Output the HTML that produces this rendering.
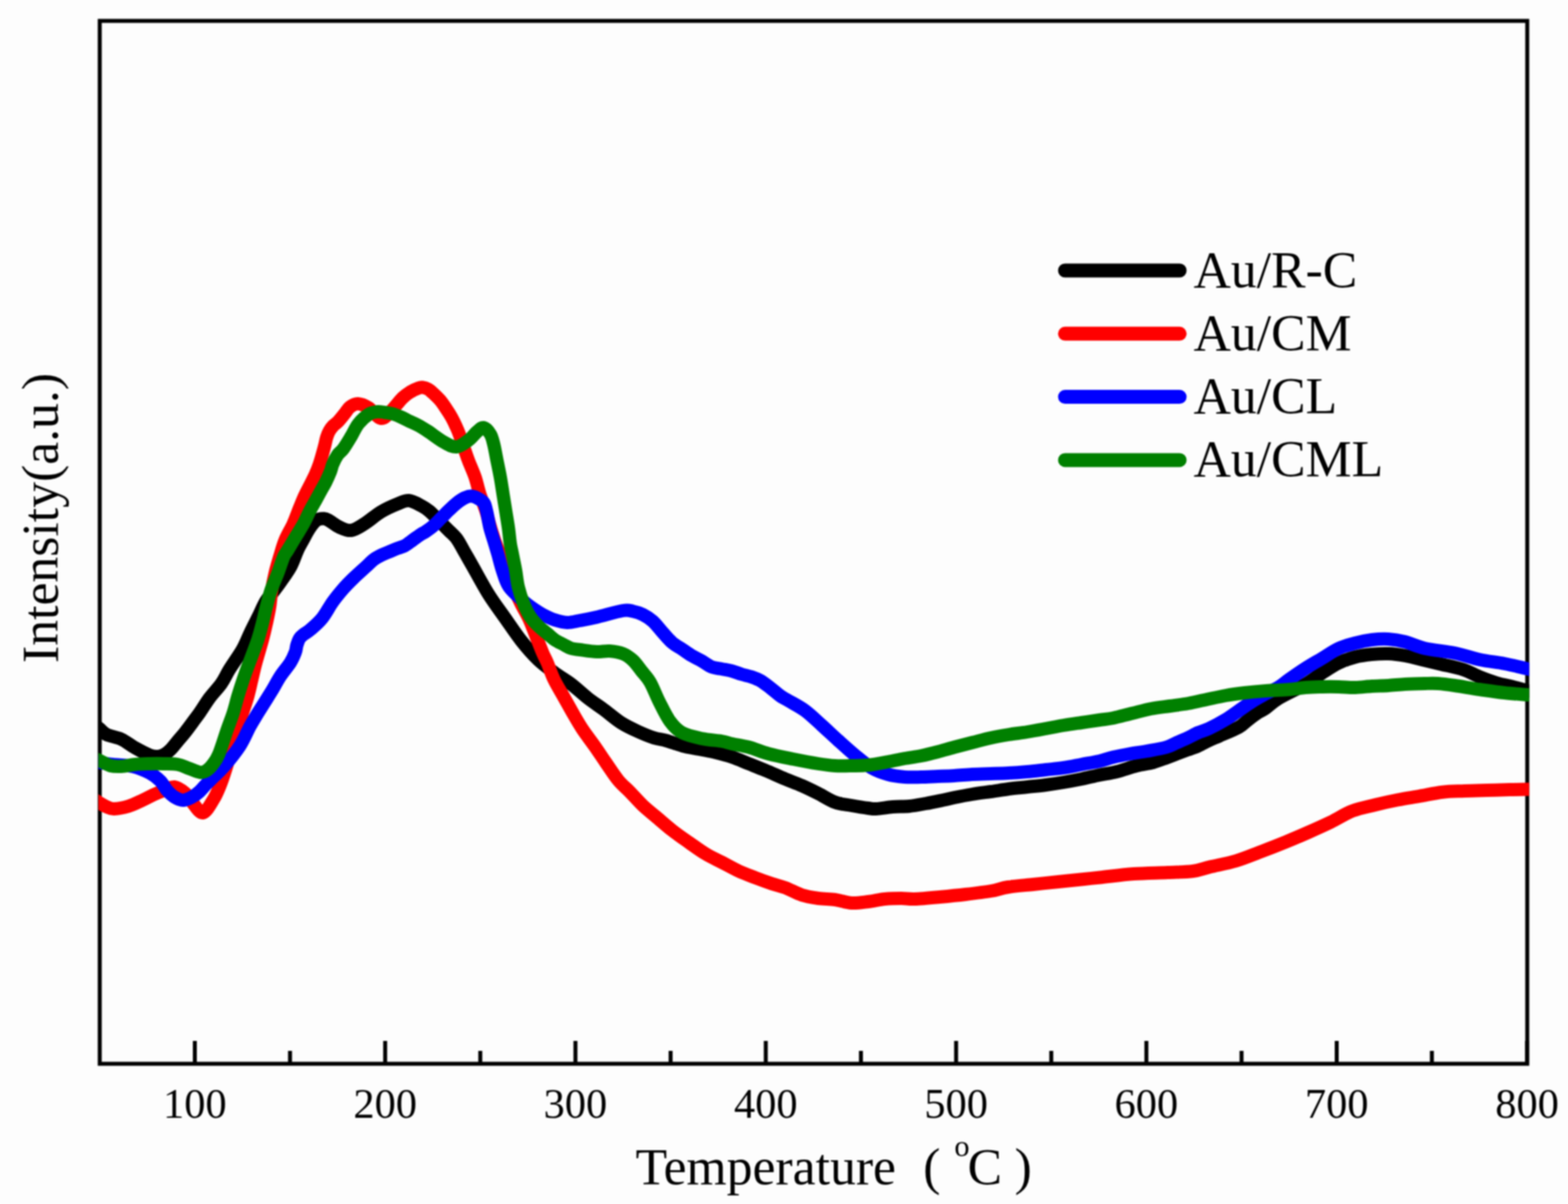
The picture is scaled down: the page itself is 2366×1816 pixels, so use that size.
<!DOCTYPE html>
<html><head><meta charset="utf-8"><style>
html,body{margin:0;padding:0;background:#fdfdfd;}
svg{display:block;filter:blur(0.8px);}
.t{font-family:"Liberation Serif","Times New Roman",serif;font-size:64px;fill:#000;}
.l{font-family:"Liberation Serif","Times New Roman",serif;font-size:78px;fill:#000;}
.a{font-family:"Liberation Serif","Times New Roman",serif;font-size:78px;fill:#000;}
</style></head><body>
<svg width="2366" height="1816" viewBox="0 0 2366 1816">
<defs><clipPath id="pc"><rect x="148.5" y="0" width="2159" height="1816"/></clipPath></defs>
<rect x="0" y="0" width="2366" height="1816" fill="#fdfdfd"/>
<line x1="294.0" y1="1604.5" x2="294.0" y2="1570" stroke="#000" stroke-width="6"/><line x1="437.6" y1="1604.5" x2="437.6" y2="1585" stroke="#000" stroke-width="6"/><line x1="581.2" y1="1604.5" x2="581.2" y2="1570" stroke="#000" stroke-width="6"/><line x1="724.7" y1="1604.5" x2="724.7" y2="1585" stroke="#000" stroke-width="6"/><line x1="868.3" y1="1604.5" x2="868.3" y2="1570" stroke="#000" stroke-width="6"/><line x1="1011.9" y1="1604.5" x2="1011.9" y2="1585" stroke="#000" stroke-width="6"/><line x1="1155.5" y1="1604.5" x2="1155.5" y2="1570" stroke="#000" stroke-width="6"/><line x1="1299.1" y1="1604.5" x2="1299.1" y2="1585" stroke="#000" stroke-width="6"/><line x1="1442.7" y1="1604.5" x2="1442.7" y2="1570" stroke="#000" stroke-width="6"/><line x1="1586.3" y1="1604.5" x2="1586.3" y2="1585" stroke="#000" stroke-width="6"/><line x1="1729.8" y1="1604.5" x2="1729.8" y2="1570" stroke="#000" stroke-width="6"/><line x1="1873.4" y1="1604.5" x2="1873.4" y2="1585" stroke="#000" stroke-width="6"/><line x1="2017.0" y1="1604.5" x2="2017.0" y2="1570" stroke="#000" stroke-width="6"/><line x1="2160.6" y1="1604.5" x2="2160.6" y2="1585" stroke="#000" stroke-width="6"/><line x1="2304.2" y1="1604.5" x2="2304.2" y2="1570" stroke="#000" stroke-width="6"/>
<rect x="150.5" y="31.5" width="2154" height="1573" fill="none" stroke="#000" stroke-width="6"/>
<path d="M143.0,1093.0 C144.2,1094.0 147.0,1096.5 150.0,1099.0 C153.0,1101.5 155.5,1105.3 161.0,1108.0 C166.5,1110.7 175.8,1111.7 183.0,1115.0 C190.2,1118.3 196.8,1124.0 204.0,1128.0 C211.2,1132.0 220.3,1136.8 226.0,1139.0 C231.7,1141.2 234.3,1141.2 238.0,1141.0 C241.7,1140.8 244.7,1139.8 248.0,1138.0 C251.3,1136.2 254.7,1133.3 258.0,1130.0 C261.3,1126.7 264.5,1122.2 268.0,1118.0 C271.5,1113.8 275.2,1109.8 279.0,1105.0 C282.8,1100.2 287.2,1094.2 291.0,1089.0 C294.8,1083.8 297.8,1080.0 302.0,1074.0 C306.2,1068.0 310.7,1060.2 316.0,1053.0 C321.3,1045.8 329.0,1038.2 334.0,1031.0 C339.0,1023.8 340.8,1018.5 346.0,1010.0 C351.2,1001.5 360.2,989.2 365.5,980.0 C370.8,970.8 373.5,962.8 377.5,954.5 C381.5,946.2 385.6,938.4 389.5,930.5 C393.4,922.6 397.2,913.2 401.0,907.0 C404.8,900.8 408.2,897.9 412.0,893.0 C415.8,888.1 419.0,884.1 423.5,877.6 C428.0,871.1 434.8,861.9 439.0,854.0 C443.2,846.1 446.0,836.5 449.0,830.0 C452.0,823.5 454.0,820.5 457.0,815.0 C460.0,809.5 463.5,802.1 467.0,797.0 C470.5,791.9 474.3,787.0 478.0,784.5 C481.7,782.0 485.8,782.1 489.0,782.3 C492.2,782.5 493.2,783.4 497.0,785.5 C500.8,787.6 506.5,792.6 512.0,795.0 C517.5,797.4 523.7,800.8 530.0,800.0 C536.3,799.2 542.5,794.7 550.0,790.0 C557.5,785.3 566.7,777.0 575.0,772.0 C583.3,767.0 593.0,762.8 600.0,760.0 C607.0,757.2 611.0,754.5 617.0,755.0 C623.0,755.5 630.8,760.3 636.0,763.0 C641.2,765.7 644.0,767.7 648.0,771.0 C652.0,774.3 656.3,779.3 660.0,783.0 C663.7,786.7 667.0,790.0 670.0,793.0 C673.0,796.0 674.8,797.7 678.0,801.0 C681.2,804.3 685.8,808.0 689.5,813.0 C693.2,818.0 696.2,824.5 700.0,831.0 C703.8,837.5 705.8,841.2 712.0,852.0 C718.2,862.8 728.7,882.7 737.0,896.0 C745.3,909.3 753.7,920.2 762.0,932.0 C770.3,943.8 778.7,956.5 787.0,967.0 C795.3,977.5 803.7,987.0 812.0,995.0 C820.3,1003.0 828.7,1008.8 837.0,1015.0 C845.3,1021.2 853.7,1025.7 862.0,1032.0 C870.3,1038.3 878.7,1046.5 887.0,1053.0 C895.3,1059.5 903.7,1064.8 912.0,1071.0 C920.3,1077.2 928.7,1084.7 937.0,1090.0 C945.3,1095.3 953.7,1099.2 962.0,1103.0 C970.3,1106.8 979.8,1110.7 987.0,1113.0 C994.2,1115.3 997.8,1115.0 1005.0,1117.0 C1012.2,1119.0 1021.7,1122.8 1030.0,1125.0 C1038.3,1127.2 1046.7,1128.3 1055.0,1130.0 C1063.3,1131.7 1071.7,1133.0 1080.0,1135.0 C1088.3,1137.0 1096.7,1139.2 1105.0,1142.0 C1113.3,1144.8 1121.7,1148.7 1130.0,1152.0 C1138.3,1155.3 1145.8,1158.2 1155.0,1162.0 C1164.2,1165.8 1175.8,1171.2 1185.0,1175.0 C1194.2,1178.8 1201.7,1181.3 1210.0,1185.0 C1218.3,1188.7 1226.7,1192.8 1235.0,1197.0 C1243.3,1201.2 1251.7,1207.0 1260.0,1210.0 C1268.3,1213.0 1276.7,1213.5 1285.0,1215.0 C1293.3,1216.5 1303.8,1218.2 1310.0,1219.0 C1316.2,1219.8 1315.8,1220.3 1322.0,1220.0 C1328.2,1219.7 1338.7,1217.7 1347.0,1217.0 C1355.3,1216.3 1363.7,1216.8 1372.0,1216.0 C1380.3,1215.2 1388.7,1213.5 1397.0,1212.0 C1405.3,1210.5 1414.8,1208.5 1422.0,1207.0 C1429.2,1205.5 1432.5,1204.5 1440.0,1203.0 C1447.5,1201.5 1457.8,1199.5 1467.0,1198.0 C1476.2,1196.5 1485.8,1195.3 1495.0,1194.0 C1504.2,1192.7 1512.8,1191.2 1522.0,1190.0 C1531.2,1188.8 1540.7,1188.0 1550.0,1187.0 C1559.3,1186.0 1568.8,1185.2 1578.0,1184.0 C1587.2,1182.8 1596.0,1181.5 1605.0,1180.0 C1614.0,1178.5 1623.0,1176.8 1632.0,1175.0 C1641.0,1173.2 1650.2,1170.8 1659.0,1169.0 C1667.8,1167.2 1675.7,1166.3 1685.0,1164.0 C1694.3,1161.7 1705.8,1157.3 1715.0,1155.0 C1724.2,1152.7 1732.5,1152.0 1740.0,1150.0 C1747.5,1148.0 1754.0,1145.2 1760.0,1143.0 C1766.0,1140.8 1770.7,1139.0 1776.0,1137.0 C1781.3,1135.0 1786.7,1133.0 1792.0,1131.0 C1797.3,1129.0 1802.7,1127.3 1808.0,1125.0 C1813.3,1122.7 1818.7,1119.5 1824.0,1117.0 C1829.3,1114.5 1832.5,1113.3 1840.0,1110.0 C1847.5,1106.7 1861.8,1101.0 1869.0,1097.0 C1876.2,1093.0 1878.2,1089.7 1883.0,1086.0 C1887.8,1082.3 1893.5,1078.0 1898.0,1075.0 C1902.5,1072.0 1904.7,1071.7 1910.0,1068.0 C1915.3,1064.3 1920.0,1059.0 1930.0,1053.0 C1940.0,1047.0 1959.2,1038.3 1970.0,1032.0 C1980.8,1025.7 1986.7,1020.3 1995.0,1015.0 C2003.3,1009.7 2011.7,1004.0 2020.0,1000.0 C2028.3,996.0 2036.7,993.2 2045.0,991.0 C2053.3,988.8 2061.7,987.8 2070.0,987.0 C2078.3,986.2 2086.7,985.7 2095.0,986.0 C2103.3,986.3 2110.8,987.3 2120.0,989.0 C2129.2,990.7 2140.8,993.8 2150.0,996.0 C2159.2,998.2 2165.3,999.7 2175.0,1002.0 C2184.7,1004.3 2198.3,1006.8 2208.0,1010.0 C2217.7,1013.2 2224.7,1017.7 2233.0,1021.0 C2241.3,1024.3 2249.7,1027.5 2258.0,1030.0 C2266.3,1032.5 2275.0,1034.0 2283.0,1036.0 C2291.0,1038.0 2300.8,1040.7 2306.0,1042.0 C2311.2,1043.3 2312.7,1043.7 2314.0,1044.1" fill="none" stroke="#000000" stroke-width="20" stroke-linejoin="round" stroke-linecap="butt" clip-path="url(#pc)"/>
<path d="M143.0,1206.0 C144.2,1206.8 147.0,1209.2 150.0,1211.0 C153.0,1212.8 157.3,1215.5 161.0,1217.0 C164.7,1218.5 166.5,1220.2 172.0,1220.0 C177.5,1219.8 186.8,1218.2 194.0,1216.0 C201.2,1213.8 208.8,1209.8 215.0,1207.0 C221.2,1204.2 225.5,1201.5 231.0,1199.0 C236.5,1196.5 242.7,1194.0 248.0,1192.0 C253.3,1190.0 257.8,1186.3 263.0,1187.0 C268.2,1187.7 274.5,1192.2 279.0,1196.0 C283.5,1199.8 285.5,1205.0 290.0,1210.0 C294.5,1215.0 300.7,1226.7 306.0,1226.0 C311.3,1225.3 317.7,1212.8 322.0,1206.0 C326.3,1199.2 329.0,1192.3 332.0,1185.0 C335.0,1177.7 337.0,1171.5 340.0,1162.0 C343.0,1152.5 347.0,1138.3 350.0,1128.0 C353.0,1117.7 355.3,1108.8 358.0,1100.0 C360.7,1091.2 363.3,1083.3 366.0,1075.0 C368.7,1066.7 371.7,1058.3 374.0,1050.0 C376.3,1041.7 378.0,1033.3 380.0,1025.0 C382.0,1016.7 383.3,1010.0 386.0,1000.0 C388.7,990.0 393.3,975.0 396.0,965.0 C398.7,955.0 400.2,948.3 402.0,940.0 C403.8,931.7 405.7,923.3 407.0,915.0 C408.3,906.7 408.7,898.3 410.0,890.0 C411.3,881.7 413.0,873.3 415.0,865.0 C417.0,856.7 419.5,848.3 422.0,840.0 C424.5,831.7 426.6,823.3 430.0,815.0 C433.4,806.7 438.9,798.0 442.5,790.0 C446.1,782.0 448.8,774.0 451.6,767.0 C454.5,760.0 456.9,753.8 459.6,748.0 C462.3,742.2 465.0,737.3 467.7,732.0 C470.4,726.7 473.3,721.3 475.7,716.0 C478.1,710.7 479.7,706.9 482.0,700.0 C484.3,693.1 487.6,681.1 489.4,674.4 C491.2,667.6 491.7,663.6 493.0,659.5 C494.3,655.4 495.3,652.9 497.0,650.0 C498.7,647.1 500.8,644.3 503.0,642.0 C505.2,639.7 507.2,639.0 510.0,636.0 C512.8,633.0 517.0,627.7 520.0,624.0 C523.0,620.3 524.7,616.5 528.0,614.0 C531.3,611.5 535.3,608.8 540.0,609.0 C544.7,609.2 550.2,611.3 556.0,615.0 C561.8,618.7 569.3,630.2 575.0,631.0 C580.7,631.8 584.6,625.2 590.0,620.0 C595.4,614.8 602.7,604.8 607.6,600.0 C612.5,595.2 615.5,593.5 619.5,591.0 C623.5,588.5 628.3,586.4 631.4,585.3 C634.5,584.2 635.6,584.1 638.0,584.4 C640.4,584.7 643.7,585.8 646.0,587.0 C648.3,588.2 649.0,588.9 652.0,591.7 C655.0,594.5 660.3,599.3 664.0,603.6 C667.7,607.9 671.1,613.3 674.0,617.6 C676.9,621.9 679.2,625.5 681.4,629.5 C683.6,633.5 685.5,637.4 687.3,641.4 C689.1,645.4 690.3,647.7 692.4,653.3 C694.5,658.9 697.6,668.0 700.0,675.0 C702.4,682.0 704.2,687.5 707.0,695.0 C709.8,702.5 714.2,711.7 717.0,720.0 C719.8,728.3 721.3,736.7 724.0,745.0 C726.7,753.3 730.3,761.7 733.0,770.0 C735.7,778.3 737.5,786.7 740.0,795.0 C742.5,803.3 744.7,810.8 748.0,820.0 C751.3,829.2 756.0,840.0 760.0,850.0 C764.0,860.0 767.7,870.0 772.0,880.0 C776.3,890.0 781.5,900.8 786.0,910.0 C790.5,919.2 795.2,926.7 799.0,935.0 C802.8,943.3 805.7,951.7 809.0,960.0 C812.3,968.3 816.2,978.3 819.0,985.0 C821.8,991.7 823.2,993.3 826.0,1000.0 C828.8,1006.7 832.0,1016.7 836.0,1025.0 C840.0,1033.3 845.3,1041.7 850.0,1050.0 C854.7,1058.3 859.2,1066.7 864.0,1075.0 C868.8,1083.3 873.5,1091.7 879.0,1100.0 C884.5,1108.3 891.2,1116.7 897.0,1125.0 C902.8,1133.3 908.0,1141.3 914.0,1150.0 C920.0,1158.7 927.0,1169.7 933.0,1177.0 C939.0,1184.3 943.8,1187.7 950.0,1194.0 C956.2,1200.3 963.3,1208.7 970.0,1215.0 C976.7,1221.3 982.5,1225.7 990.0,1232.0 C997.5,1238.3 1006.7,1246.5 1015.0,1253.0 C1023.3,1259.5 1031.7,1265.2 1040.0,1271.0 C1048.3,1276.8 1056.7,1283.0 1065.0,1288.0 C1073.3,1293.0 1081.7,1296.7 1090.0,1301.0 C1098.3,1305.3 1106.7,1310.2 1115.0,1314.0 C1123.3,1317.8 1131.7,1320.8 1140.0,1324.0 C1148.3,1327.2 1157.5,1330.5 1165.0,1333.0 C1172.5,1335.5 1177.5,1336.2 1185.0,1339.0 C1192.5,1341.8 1201.7,1347.3 1210.0,1350.0 C1218.3,1352.7 1226.7,1353.8 1235.0,1355.0 C1243.3,1356.2 1251.7,1355.8 1260.0,1357.0 C1268.3,1358.2 1276.7,1361.5 1285.0,1362.0 C1293.3,1362.5 1301.7,1361.0 1310.0,1360.0 C1318.3,1359.0 1326.7,1356.8 1335.0,1356.0 C1343.3,1355.2 1352.5,1355.0 1360.0,1355.0 C1367.5,1355.0 1370.3,1356.3 1380.0,1356.0 C1389.7,1355.7 1405.2,1354.2 1418.0,1353.0 C1430.8,1351.8 1444.2,1350.5 1457.0,1349.0 C1469.8,1347.5 1484.3,1345.8 1495.0,1344.0 C1505.7,1342.2 1510.3,1339.7 1521.0,1338.0 C1531.7,1336.3 1546.3,1335.3 1559.0,1334.0 C1571.7,1332.7 1584.2,1331.3 1597.0,1330.0 C1609.8,1328.7 1625.5,1327.1 1636.0,1326.0 C1646.5,1324.9 1647.5,1324.8 1660.0,1323.5 C1672.5,1322.2 1694.0,1319.2 1711.0,1318.0 C1728.0,1316.8 1747.2,1316.7 1762.0,1316.0 C1776.8,1315.3 1789.3,1315.4 1800.0,1314.0 C1810.7,1312.6 1815.2,1310.1 1826.0,1307.5 C1836.8,1304.9 1852.2,1302.3 1865.0,1298.5 C1877.8,1294.7 1890.5,1289.2 1903.0,1284.5 C1915.5,1279.8 1928.2,1274.8 1940.0,1270.0 C1951.8,1265.2 1962.7,1260.5 1974.0,1255.5 C1985.3,1250.5 1996.8,1245.4 2008.0,1240.0 C2019.2,1234.6 2029.8,1227.3 2041.0,1223.0 C2052.2,1218.7 2063.7,1216.8 2075.0,1214.0 C2086.3,1211.2 2097.7,1208.7 2109.0,1206.5 C2120.3,1204.3 2131.7,1202.6 2143.0,1200.6 C2154.3,1198.6 2165.8,1196.0 2177.0,1194.7 C2188.2,1193.4 2198.8,1193.5 2210.0,1193.0 C2221.2,1192.5 2232.7,1192.3 2244.0,1192.0 C2255.3,1191.7 2267.7,1191.2 2278.0,1191.0 C2288.3,1190.8 2300.0,1190.6 2306.0,1190.5 C2312.0,1190.4 2312.7,1190.4 2314.0,1190.4" fill="none" stroke="#ff0000" stroke-width="20" stroke-linejoin="round" stroke-linecap="butt" clip-path="url(#pc)"/>
<path d="M143.0,1149.0 C144.2,1149.2 145.5,1149.3 150.0,1150.0 C154.5,1150.7 161.7,1152.0 170.0,1153.0 C178.3,1154.0 190.7,1153.8 200.0,1156.0 C209.3,1158.2 219.0,1162.3 226.0,1166.0 C233.0,1169.7 237.7,1173.7 242.0,1178.0 C246.3,1182.3 248.5,1188.0 252.0,1192.0 C255.5,1196.0 259.0,1199.5 263.0,1202.0 C267.0,1204.5 271.5,1207.0 276.0,1207.0 C280.5,1207.0 285.8,1204.2 290.0,1202.0 C294.2,1199.8 297.5,1197.2 301.0,1194.0 C304.5,1190.8 307.5,1186.7 311.0,1183.0 C314.5,1179.3 317.5,1176.5 322.0,1172.0 C326.5,1167.5 331.3,1163.8 338.0,1156.0 C344.7,1148.2 355.5,1135.0 362.0,1125.0 C368.5,1115.0 372.8,1103.7 377.0,1096.0 C381.2,1088.3 383.4,1084.9 387.0,1079.0 C390.6,1073.1 394.7,1066.8 398.6,1060.5 C402.5,1054.2 406.4,1048.2 410.5,1041.4 C414.6,1034.7 418.4,1027.0 423.0,1020.0 C427.6,1013.0 434.2,1005.6 438.0,999.6 C441.8,993.6 443.8,988.4 445.5,984.0 C447.2,979.6 446.9,976.5 448.0,973.0 C449.1,969.5 450.3,965.7 452.0,963.0 C453.7,960.3 455.2,959.2 458.0,957.0 C460.8,954.8 463.9,953.6 468.6,949.5 C473.3,945.4 480.4,939.5 486.0,932.6 C491.6,925.7 496.7,915.4 502.0,908.0 C507.3,900.6 512.7,894.1 518.0,888.0 C523.3,881.9 528.3,877.0 534.0,871.5 C539.7,866.0 547.0,859.6 552.0,855.0 C557.0,850.4 560.0,847.0 564.0,844.0 C568.0,841.0 572.0,839.0 576.0,837.0 C580.0,835.0 584.0,833.7 588.0,832.0 C592.0,830.3 596.2,828.5 600.0,827.0 C603.8,825.5 607.2,825.1 611.0,823.0 C614.8,820.9 619.0,817.3 623.0,814.5 C627.0,811.7 631.8,808.1 635.0,806.0 C638.2,803.9 638.8,804.2 642.0,802.0 C645.2,799.8 650.0,796.5 654.0,793.0 C658.0,789.5 662.0,785.0 666.0,781.0 C670.0,777.0 674.1,772.7 678.0,769.0 C681.9,765.3 685.7,761.6 689.5,758.6 C693.3,755.6 697.1,752.7 701.0,751.0 C704.9,749.3 708.3,747.5 713.0,748.5 C717.7,749.5 725.5,753.4 729.0,757.0 C732.5,760.6 732.3,763.7 734.0,770.0 C735.7,776.3 737.2,787.5 739.0,795.0 C740.8,802.5 743.0,808.3 745.0,815.0 C747.0,821.7 748.8,827.5 751.0,835.0 C753.2,842.5 755.2,851.7 758.0,860.0 C760.8,868.3 762.7,877.2 768.0,885.0 C773.3,892.8 783.7,901.3 790.0,907.0 C796.3,912.7 801.2,915.7 806.0,919.0 C810.8,922.3 813.8,924.3 819.0,927.0 C824.2,929.7 830.8,933.0 837.0,935.0 C843.2,937.0 849.7,938.8 856.0,939.0 C862.3,939.2 867.7,937.3 875.0,936.0 C882.3,934.7 889.2,933.5 900.0,931.0 C910.8,928.5 930.8,922.5 940.0,921.0 C949.2,919.5 950.0,921.0 955.0,922.0 C960.0,923.0 965.0,924.5 970.0,927.0 C975.0,929.5 980.0,932.5 985.0,937.0 C990.0,941.5 995.2,948.7 1000.0,954.0 C1004.8,959.3 1009.2,964.8 1014.0,969.0 C1018.8,973.2 1024.0,975.7 1029.0,979.0 C1034.0,982.3 1039.0,986.0 1044.0,989.0 C1049.0,992.0 1054.0,994.2 1059.0,997.0 C1064.0,999.8 1069.0,1004.0 1074.0,1006.0 C1079.0,1008.0 1084.0,1008.0 1089.0,1009.0 C1094.0,1010.0 1099.0,1010.7 1104.0,1012.0 C1109.0,1013.3 1114.0,1015.5 1119.0,1017.0 C1124.0,1018.5 1129.2,1019.3 1134.0,1021.0 C1138.8,1022.7 1143.2,1024.2 1148.0,1027.0 C1152.8,1029.8 1158.0,1034.2 1163.0,1038.0 C1168.0,1041.8 1173.5,1046.8 1178.0,1050.0 C1182.5,1053.2 1183.8,1053.3 1190.0,1057.0 C1196.2,1060.7 1206.7,1065.8 1215.0,1072.0 C1223.3,1078.2 1231.7,1086.5 1240.0,1094.0 C1248.3,1101.5 1256.7,1109.5 1265.0,1117.0 C1273.3,1124.5 1281.7,1132.2 1290.0,1139.0 C1298.3,1145.8 1306.7,1153.2 1315.0,1158.0 C1323.3,1162.8 1331.7,1165.7 1340.0,1168.0 C1348.3,1170.3 1356.7,1171.3 1365.0,1172.0 C1373.3,1172.7 1381.7,1172.2 1390.0,1172.0 C1398.3,1171.8 1406.7,1171.3 1415.0,1171.0 C1423.3,1170.7 1431.3,1170.5 1440.0,1170.0 C1448.7,1169.5 1457.8,1168.5 1467.0,1168.0 C1476.2,1167.5 1485.8,1167.3 1495.0,1167.0 C1504.2,1166.7 1512.8,1166.5 1522.0,1166.0 C1531.2,1165.5 1540.7,1164.8 1550.0,1164.0 C1559.3,1163.2 1568.8,1162.0 1578.0,1161.0 C1587.2,1160.0 1596.0,1159.3 1605.0,1158.0 C1614.0,1156.7 1623.0,1154.7 1632.0,1153.0 C1641.0,1151.3 1651.0,1149.8 1659.0,1148.0 C1667.0,1146.2 1672.3,1143.8 1680.0,1142.0 C1687.7,1140.2 1696.7,1138.5 1705.0,1137.0 C1713.3,1135.5 1720.8,1134.7 1730.0,1133.0 C1739.2,1131.3 1752.3,1129.2 1760.0,1127.0 C1767.7,1124.8 1770.7,1122.3 1776.0,1120.0 C1781.3,1117.7 1786.7,1115.5 1792.0,1113.0 C1797.3,1110.5 1802.7,1107.3 1808.0,1105.0 C1813.3,1102.7 1817.0,1102.3 1824.0,1099.0 C1831.0,1095.7 1842.5,1089.5 1850.0,1085.0 C1857.5,1080.5 1862.7,1076.3 1869.0,1072.0 C1875.3,1067.7 1881.7,1063.0 1888.0,1059.0 C1894.3,1055.0 1900.0,1051.8 1907.0,1048.0 C1914.0,1044.2 1923.7,1039.8 1930.0,1036.0 C1936.3,1032.2 1938.3,1029.7 1945.0,1025.0 C1951.7,1020.3 1961.7,1013.3 1970.0,1008.0 C1978.3,1002.7 1986.7,998.0 1995.0,993.0 C2003.3,988.0 2011.7,981.8 2020.0,978.0 C2028.3,974.2 2036.7,972.2 2045.0,970.0 C2053.3,967.8 2061.7,966.0 2070.0,965.0 C2078.3,964.0 2086.7,963.5 2095.0,964.0 C2103.3,964.5 2110.8,965.7 2120.0,968.0 C2129.2,970.3 2137.5,975.2 2150.0,978.0 C2162.5,980.8 2181.2,982.2 2195.0,985.0 C2208.8,987.8 2220.5,992.3 2233.0,995.0 C2245.5,997.7 2257.8,998.7 2270.0,1001.0 C2282.2,1003.3 2298.7,1007.4 2306.0,1009.0 C2313.3,1010.6 2312.7,1010.5 2314.0,1010.8" fill="none" stroke="#0000ff" stroke-width="20" stroke-linejoin="round" stroke-linecap="butt" clip-path="url(#pc)"/>
<path d="M143.0,1144.0 C144.2,1144.5 146.0,1145.2 150.0,1147.0 C154.0,1148.8 161.5,1153.5 167.0,1155.0 C172.5,1156.5 176.8,1156.3 183.0,1156.0 C189.2,1155.7 196.8,1153.7 204.0,1153.0 C211.2,1152.3 218.8,1152.2 226.0,1152.0 C233.2,1151.8 240.0,1151.8 247.0,1152.0 C254.0,1152.2 261.7,1151.8 268.0,1153.0 C274.3,1154.2 279.3,1157.0 285.0,1159.0 C290.7,1161.0 297.5,1164.5 302.0,1165.0 C306.5,1165.5 308.8,1164.0 312.0,1162.0 C315.2,1160.0 318.0,1157.0 321.0,1153.0 C324.0,1149.0 326.3,1146.8 330.0,1138.0 C333.7,1129.2 339.3,1110.5 343.0,1100.0 C346.7,1089.5 349.3,1083.3 352.0,1075.0 C354.7,1066.7 356.5,1058.3 359.0,1050.0 C361.5,1041.7 364.2,1033.3 367.0,1025.0 C369.8,1016.7 372.3,1010.0 376.0,1000.0 C379.7,990.0 385.7,975.0 389.0,965.0 C392.3,955.0 393.8,948.3 396.0,940.0 C398.2,931.7 399.8,923.3 402.0,915.0 C404.2,906.7 406.2,898.3 409.0,890.0 C411.8,881.7 415.8,873.3 419.0,865.0 C422.2,856.7 425.5,845.8 428.0,840.0 C430.5,834.2 431.0,835.0 434.0,830.0 C437.0,825.0 442.0,816.7 446.0,810.0 C450.0,803.3 454.3,796.7 458.0,790.0 C461.7,783.3 464.8,775.7 468.0,769.6 C471.2,763.5 474.3,758.5 477.0,753.6 C479.7,748.7 482.0,744.4 484.4,740.0 C486.8,735.6 489.2,731.9 491.6,727.0 C494.0,722.1 497.0,715.2 498.8,710.7 C500.6,706.2 500.4,704.1 502.2,700.0 C503.9,695.9 506.7,690.1 509.3,686.3 C511.9,682.5 514.5,681.7 518.0,677.0 C521.5,672.3 526.2,664.3 530.0,658.0 C533.8,651.7 536.5,644.6 541.0,639.0 C545.5,633.4 552.2,627.5 557.0,624.5 C561.8,621.5 566.2,621.4 570.0,621.0 C573.8,620.6 576.3,621.5 580.0,622.0 C583.7,622.5 587.8,622.8 592.0,624.0 C596.2,625.2 600.8,627.2 605.0,629.0 C609.2,630.8 612.8,633.0 617.0,635.0 C621.2,637.0 625.3,638.5 630.0,641.0 C634.7,643.5 638.3,645.7 645.0,650.0 C651.7,654.3 662.7,663.0 670.0,667.0 C677.3,671.0 682.8,674.5 689.0,674.0 C695.2,673.5 701.8,667.8 707.0,664.0 C712.2,660.2 716.2,654.2 720.0,651.0 C723.8,647.8 726.7,644.3 730.0,645.0 C733.3,645.7 737.5,650.8 740.0,655.0 C742.5,659.2 743.3,663.3 745.0,670.0 C746.7,676.7 748.3,686.7 750.0,695.0 C751.7,703.3 753.5,711.7 755.0,720.0 C756.5,728.3 757.7,736.7 759.0,745.0 C760.3,753.3 761.7,761.7 763.0,770.0 C764.3,778.3 765.8,786.7 767.0,795.0 C768.2,803.3 769.0,813.3 770.0,820.0 C771.0,826.7 771.7,828.3 773.0,835.0 C774.3,841.7 776.5,851.7 778.0,860.0 C779.5,868.3 780.0,876.7 782.0,885.0 C784.0,893.3 787.0,902.5 790.0,910.0 C793.0,917.5 796.3,924.3 800.0,930.0 C803.7,935.7 807.8,939.8 812.0,944.0 C816.2,948.2 820.8,951.5 825.0,955.0 C829.2,958.5 832.8,962.2 837.0,965.0 C841.2,967.8 845.8,969.8 850.0,972.0 C854.2,974.2 857.8,976.7 862.0,978.0 C866.2,979.3 868.7,979.2 875.0,980.0 C881.3,980.8 892.5,982.7 900.0,983.0 C907.5,983.3 913.3,981.5 920.0,982.0 C926.7,982.5 934.2,983.7 940.0,986.0 C945.8,988.3 950.3,991.7 955.0,996.0 C959.7,1000.3 963.7,1006.5 968.0,1012.0 C972.3,1017.5 976.5,1021.2 981.0,1029.0 C985.5,1036.8 990.0,1049.2 995.0,1059.0 C1000.0,1068.8 1005.3,1080.3 1011.0,1088.0 C1016.7,1095.7 1021.0,1100.7 1029.0,1105.0 C1037.0,1109.3 1049.0,1111.8 1059.0,1114.0 C1069.0,1116.2 1081.3,1116.7 1089.0,1118.0 C1096.7,1119.3 1098.2,1120.5 1105.0,1122.0 C1111.8,1123.5 1120.8,1124.5 1130.0,1127.0 C1139.2,1129.5 1148.8,1134.0 1160.0,1137.0 C1171.2,1140.0 1184.5,1142.5 1197.0,1145.0 C1209.5,1147.5 1224.5,1150.3 1235.0,1152.0 C1245.5,1153.7 1251.7,1154.5 1260.0,1155.0 C1268.3,1155.5 1276.7,1155.2 1285.0,1155.0 C1293.3,1154.8 1300.8,1155.0 1310.0,1154.0 C1319.2,1153.0 1330.8,1150.7 1340.0,1149.0 C1349.2,1147.3 1356.7,1145.5 1365.0,1144.0 C1373.3,1142.5 1381.7,1141.7 1390.0,1140.0 C1398.3,1138.3 1406.7,1136.2 1415.0,1134.0 C1423.3,1131.8 1431.3,1129.3 1440.0,1127.0 C1448.7,1124.7 1457.8,1122.3 1467.0,1120.0 C1476.2,1117.7 1485.8,1115.0 1495.0,1113.0 C1504.2,1111.0 1512.8,1109.5 1522.0,1108.0 C1531.2,1106.5 1540.7,1105.5 1550.0,1104.0 C1559.3,1102.5 1568.8,1100.7 1578.0,1099.0 C1587.2,1097.3 1596.0,1095.5 1605.0,1094.0 C1614.0,1092.5 1623.0,1091.3 1632.0,1090.0 C1641.0,1088.7 1651.0,1087.2 1659.0,1086.0 C1667.0,1084.8 1671.8,1084.7 1680.0,1083.0 C1688.2,1081.3 1698.5,1078.3 1708.0,1076.0 C1717.5,1073.7 1727.5,1070.8 1737.0,1069.0 C1746.5,1067.2 1755.7,1066.3 1765.0,1065.0 C1774.3,1063.7 1783.7,1062.7 1793.0,1061.0 C1802.3,1059.3 1811.5,1057.0 1821.0,1055.0 C1830.5,1053.0 1840.5,1050.7 1850.0,1049.0 C1859.5,1047.3 1868.0,1046.2 1878.0,1045.0 C1888.0,1043.8 1898.8,1042.8 1910.0,1042.0 C1921.2,1041.2 1935.0,1040.8 1945.0,1040.0 C1955.0,1039.2 1961.7,1037.7 1970.0,1037.0 C1978.3,1036.3 1986.7,1036.2 1995.0,1036.0 C2003.3,1035.8 2011.7,1035.8 2020.0,1036.0 C2028.3,1036.2 2036.7,1037.2 2045.0,1037.0 C2053.3,1036.8 2061.7,1035.5 2070.0,1035.0 C2078.3,1034.5 2086.7,1034.5 2095.0,1034.0 C2103.3,1033.5 2110.8,1032.5 2120.0,1032.0 C2129.2,1031.5 2141.7,1031.2 2150.0,1031.0 C2158.3,1030.8 2162.5,1030.5 2170.0,1031.0 C2177.5,1031.5 2184.5,1032.5 2195.0,1034.0 C2205.5,1035.5 2220.5,1038.2 2233.0,1040.0 C2245.5,1041.8 2257.8,1043.7 2270.0,1045.0 C2282.2,1046.3 2298.7,1047.4 2306.0,1048.0 C2313.3,1048.6 2312.7,1048.6 2314.0,1048.7" fill="none" stroke="#008000" stroke-width="20" stroke-linejoin="round" stroke-linecap="butt" clip-path="url(#pc)"/>
<text x="294.0" y="1686" text-anchor="middle" class="t">100</text><text x="581.2" y="1686" text-anchor="middle" class="t">200</text><text x="868.3" y="1686" text-anchor="middle" class="t">300</text><text x="1155.5" y="1686" text-anchor="middle" class="t">400</text><text x="1442.7" y="1686" text-anchor="middle" class="t">500</text><text x="1729.8" y="1686" text-anchor="middle" class="t">600</text><text x="2017.0" y="1686" text-anchor="middle" class="t">700</text><text x="2304.2" y="1686" text-anchor="middle" class="t">800</text>
<line x1="1607" y1="408.0" x2="1780" y2="408.0" stroke="#000000" stroke-width="21" stroke-linecap="round"/><text x="1801" y="432.5" class="l">Au/R-C</text><line x1="1607" y1="503.3" x2="1780" y2="503.3" stroke="#ff0000" stroke-width="21" stroke-linecap="round"/><text x="1801" y="527.5" class="l">Au/CM</text><line x1="1607" y1="598.6" x2="1780" y2="598.6" stroke="#0000ff" stroke-width="21" stroke-linecap="round"/><text x="1801" y="622.5" class="l">Au/CL</text><line x1="1607" y1="693.9" x2="1780" y2="693.9" stroke="#008000" stroke-width="21" stroke-linecap="round"/><text x="1801" y="717.5" class="l">Au/CML</text>
<text class="a" x="959" y="1786">Temperature</text>
<text class="a" x="1393" y="1786">(</text>
<text class="a" x="1440" y="1744" style="font-size:46px">o</text>
<text class="a" x="1460" y="1786">C</text>
<text class="a" x="1531" y="1786">)</text>
<text class="a" transform="translate(87,1000) rotate(-90)" x="0" y="0">Intensity(a.u.)</text>
</svg>
</body></html>
